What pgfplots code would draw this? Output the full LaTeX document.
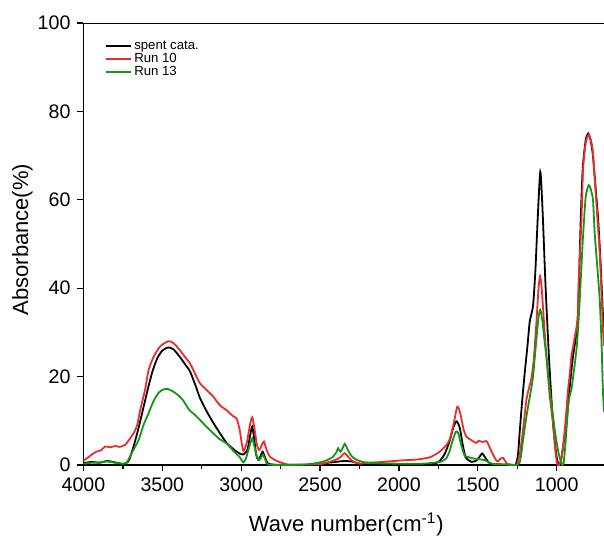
\documentclass[border=0pt]{standalone}
\usepackage{pgfplots}
\pgfplotsset{compat=1.18}
\usepackage{fontspec}
\setmainfont{Liberation Sans}
\definecolor{runred}{RGB}{232,45,45}
\definecolor{rungreen}{RGB}{20,150,20}
\begin{document}
\begin{tikzpicture}
\begin{axis}[
  name=ax,
  scale only axis,
  width=260.25pt, height=221pt,
  x dir=reverse,
  xmin=700, xmax=4000,
  ymin=0, ymax=100,
  axis lines*=left,
  tick align=outside,
  xtick={1000,1500,...,4000},
  minor x tick num=1,
  ytick={0,20,...,100},
  major tick length=3pt, minor tick length=2pt,
  every tick/.style={black, line width=0.6pt},
  axis line style={line width=0.6pt},
  /pgf/number format/assume math mode=true,
  /pgf/number format/1000 sep={},
  ticklabel style={font=\fontsize{9.8}{11}\selectfont},
  xlabel={Wave number(cm\textsuperscript{-1})},
  ylabel={Absorbance(\%)},
  every axis x label/.style={at={(axis description cs:0.505,-0.1335)}, anchor=center, font=\fontsize{11}{12}\selectfont},
  every axis y label/.style={at={(axis description cs:-0.1172,0.51)}, anchor=center, rotate=90, font=\fontsize{11}{12}\selectfont},
  legend style={draw=none, fill=none, at={(axis description cs:0,1)}, anchor=north west,
    xshift=10.5pt, yshift=-8.3pt, inner sep=0pt, row sep=0pt,
    font=\fontsize{6.6}{6}\selectfont,
    nodes={text height=4.6pt, text depth=1.3pt, inner xsep=1.2pt, inner ysep=0.3pt}},
  legend cell align=left,
  legend image code/.code={\draw[#1, line width=1pt] (0pt,0.1pt) -- (12.5pt,0.1pt);},
  every axis plot/.append style={line width=0.9pt, smooth, tension=0.4},
]
\addplot[black] coordinates {
(4000,0.4)(3950,0.7)(3900,0.5)(3850,0.9)(3800,0.6)(3760,0.3)(3730,0.4)(3710,1.2)
(3680,4.5)(3650,8.5)(3620,13)(3590,17.5)(3560,21.5)(3530,24.3)(3500,25.9)(3465,26.6)
(3430,26.2)(3390,24.5)(3360,23)(3325,21.2)(3290,18)(3262,15.2)(3220,12.2)(3178,9.6)
(3135,7.2)(3093,5)(3050,3.6)(3010,2.6)(2985,2.4)(2960,3.5)(2942,7)(2930,8.7)(2918,6)
(2905,2.3)(2893,1.2)(2878,2)(2864,3)(2850,1.8)(2832,0.4)(2800,0.1)(2700,0)(2600,0)
(2500,0.2)(2450,0.5)(2400,0.7)(2350,0.9)(2300,0.8)(2250,0.3)(2200,0.1)(2000,0.1)
(1850,0.2)(1780,0.3)(1745,0.8)(1710,2.5)(1680,5.3)(1655,8.5)(1635,9.9)(1615,8.5)
(1595,4.5)(1578,1.8)(1555,1)(1538,0.7)(1510,1)(1490,1.8)(1473,2.6)(1455,1.8)(1431,0.6)
(1400,0.2)(1300,0.1)(1260,0.1)(1245,2.5)(1235,7.2)(1220,14)(1203,20.7)(1185,27)
(1171,32.4)(1150,36)(1135,44)(1120,56)(1104,66.3)(1090,58)(1070,40)(1049,24.5)
(1035,16)(1023,9.4)(1005,3)(992,0.4)(985,0)(975,0.5)(960,4)(938,9.4)(917,17.7)
(897,24.5)(880,28.5)(866,33)(858,42)(848,55)(835,67)(816,73.5)(800,75)(785,73.5)
(770,70)(754,63)(738,56)(725,48)(717,42)(708,35)(700,30)
};
\addlegendentry{spent cata.}
\addplot[runred] coordinates {
(4000,1)(3975,1.6)(3950,2.3)(3920,3)(3890,3.3)(3862,4.2)(3830,4)(3800,4.3)(3770,4.1)
(3735,4.6)(3705,6)(3682,7.2)(3660,9)(3640,12.5)(3610,17)(3587,21.5)(3555,24.5)
(3515,26.8)(3463,28)(3430,27.6)(3389,26)(3360,24.6)(3325,23)(3290,20.5)(3262,18.5)
(3220,17)(3178,15.5)(3135,13.5)(3093,12.4)(3050,11)(3029,10.5)(3010,8)(2995,4.5)
(2985,3.2)(2965,5)(2945,9)(2930,10.8)(2915,8)(2900,4.5)(2886,3.4)(2870,4.5)(2856,5.3)
(2840,3.5)(2818,1.9)(2780,1)(2734,0.4)(2700,0.1)(2600,0.1)(2500,0.2)(2450,0.6)
(2400,1.2)(2370,1.8)(2345,2.7)(2320,1.8)(2290,0.8)(2250,0.3)(2200,0.5)(2100,0.7)
(2000,1)(1900,1.2)(1868,1.3)(1800,1.8)(1742,3)(1700,4.5)(1678,5.8)(1655,9)(1630,13.2)
(1610,11.5)(1590,8)(1572,6.4)(1540,5.6)(1510,5)(1495,5.5)(1470,5.2)(1445,5.4)(1425,4)
(1403,2.3)(1385,1.2)(1372,0.8)(1355,1.5)(1340,1.6)(1325,0.8)(1310,0.1)(1270,0)
(1250,0.2)(1230,3.4)(1210,9)(1192,14.7)(1175,17.5)(1160,19.6)(1145,24)(1129,32)
(1115,40)(1105,42.7)(1095,40)(1080,32)(1065,24.5)(1045,16)(1023,9.4)(1010,4)(998,0.4)
(985,0)(970,1.5)(960,4)(949,7.9)(938,12.5)(928,17)(917,20.5)(907,24.5)(885,29)
(868,33)(860,42)(843,55.4)(833,66.7)(816,72.9)(797,74.7)(780,73)(770,70.5)(748,59.3)
(727,47.9)(717,40)(707,31)(700,27)
};
\addlegendentry{Run 10}
\addplot[rungreen] coordinates {
(4000,0.3)(3950,0.5)(3900,0.6)(3850,0.8)(3800,0.5)(3760,0.3)(3730,0.4)(3714,1.3)
(3690,3)(3650,5.7)(3620,9)(3590,11.5)(3558,14.3)(3525,16.3)(3494,17.1)(3465,17.2)
(3431,16.6)(3400,15.8)(3368,14.6)(3330,12.5)(3283,11)(3230,9)(3178,7.2)(3135,5.8)
(3093,4.9)(3050,3.2)(3010,1.8)(2987,0.6)(2970,1.5)(2950,4)(2930,6)(2915,4)(2900,1.8)
(2886,1.1)(2873,1.8)(2861,2.3)(2845,1)(2829,0.1)(2700,0)(2600,0.1)(2530,0.4)
(2470,0.9)(2420,1.8)(2395,3)(2386,3.8)(2370,3)(2355,4)(2343,4.8)(2325,3.5)(2300,2)
(2270,1.2)(2230,0.7)(2150,0.4)(2000,0.3)(1850,0.3)(1760,0.6)(1730,0.8)(1700,1.5)
(1680,3)(1660,5.5)(1640,7.5)(1625,7.3)(1605,4.5)(1585,2.2)(1572,1.9)(1550,1.7)
(1530,1.5)(1490,1.3)(1456,1.1)(1430,0.6)(1400,0.2)(1300,0.1)(1250,0)(1235,0.5)
(1224,2.6)(1210,6.5)(1192,10.9)(1180,13.5)(1167,16.1)(1150,20)(1129,28.3)(1115,33.5)
(1104,35.1)(1090,32.5)(1080,29)(1065,24.5)(1040,16)(1012,7.9)(990,3)(970,0.4)(965,0)
(956,0.4)(945,4.5)(935,9.5)(928,13.2)(917,15.8)(907,17)(890,21.5)(875,26)(865,30.5)
(854,37.3)(843,45)(833,51.7)(816,60.7)(797,63.3)(785,62.5)(770,60)(759,52.5)(745,46)
(727,37.3)(715,27)(707,17)(700,12)
};
\addlegendentry{Run 13}
\draw[line width=0.6pt] (rel axis cs:0,1) -- (rel axis cs:1,1);
\end{axis}
\pgfresetboundingbox
\path ([xshift=-41.75pt,yshift=-36pt]ax.south west) rectangle ([yshift=11.5pt]ax.north east);
\end{tikzpicture}
\end{document}
